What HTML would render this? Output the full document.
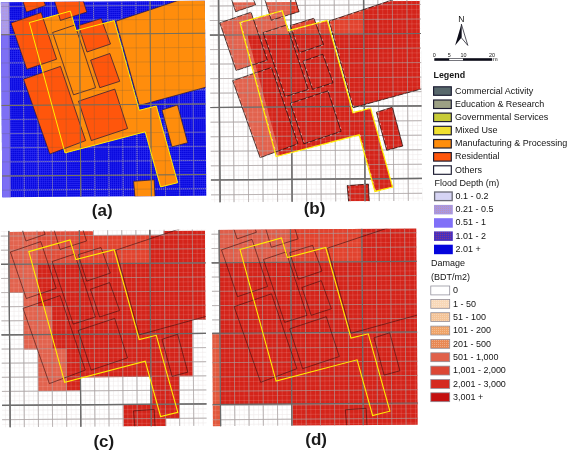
<!DOCTYPE html>
<html><head><meta charset="utf-8"><title>Flood damage maps</title>
<style>
html,body{margin:0;padding:0;background:#fff;}
body{width:567px;height:450px;overflow:hidden;position:relative;font-family:"Liberation Sans",sans-serif;}
svg{position:absolute;left:0;top:0;display:block;}
svg text{font-family:"Liberation Sans",sans-serif;}
</style></head><body>
<svg width="567" height="450" viewBox="0 0 567 450">
<defs>
<pattern id="fineBlue" width="2.02" height="2.02" patternUnits="userSpaceOnUse" x="9.4" y="6.2">
<rect width="2.02" height="2.02" fill="#0707dd"/><path d="M0 0.25H2.02M0.25 0V2.02" stroke="#2c2cf4" stroke-width="0.5"/></pattern>
<pattern id="dotO" width="2" height="2" patternUnits="userSpaceOnUse"><circle cx="0.5" cy="0.5" r="0.42" fill="#e8845c" fill-opacity="0.6"/></pattern>
<pattern id="dotR" width="2" height="2" patternUnits="userSpaceOnUse"><circle cx="0.5" cy="0.5" r="0.45" fill="#c83c50"/></pattern>
<pattern id="dotW" width="2" height="2" patternUnits="userSpaceOnUse"><circle cx="0.5" cy="0.5" r="0.42" fill="#ffffff" fill-opacity="0.55"/></pattern>
<pattern id="dotS" width="3" height="3" patternUnits="userSpaceOnUse"><circle cx="1" cy="1" r="0.5" fill="#e08a50" fill-opacity="0.8"/></pattern>

<clipPath id="clipA"><rect x="1.6" y="1.6" width="204.0" height="194.8" transform="rotate(-0.42 103.6 99)"/></clipPath>
</defs>
<g clip-path="url(#clipA)">
<g transform="rotate(-0.42 103.6 99)">
<rect x="-5" y="-5" width="220" height="210" fill="url(#fineBlue)"/>
<rect x="-5" y="-5" width="15.1" height="39.0" fill="#a99cf2"/>
<rect x="-5" y="34.0" width="15.1" height="170" fill="#7d6ff4"/>
<rect x="2" y="2" width="8" height="32" fill="url(#dotS)"/>
<path d="M23.58 -3.0V203.0M37.71 -3.0V203.0M51.84 -3.0V203.0M65.97 -3.0V203.0M80.10 -3.0V203.0M94.23 -3.0V203.0M108.36 -3.0V203.0M122.49 -3.0V203.0M136.62 -3.0V203.0M150.75 -3.0V203.0M164.88 -3.0V203.0M179.01 -3.0V203.0M193.14 -3.0V203.0M207.27 -3.0V203.0M10.1 5.74H210.0M10.1 19.87H210.0M10.1 34.00H210.0M10.1 48.13H210.0M10.1 62.26H210.0M10.1 76.39H210.0M10.1 90.52H210.0M10.1 104.65H210.0M10.1 118.78H210.0M10.1 132.91H210.0M10.1 147.04H210.0M10.1 161.17H210.0M10.1 175.30H210.0M10.1 189.43H210.0" stroke="#b0a8f0" stroke-width="0.8" fill="none" stroke-dasharray="1.3 0.7"/>
<path d="" stroke="#77705e" stroke-width="1.1" fill="none"/>
</g>
<polygon points="29.3,22.6 70.3,11.1 76.2,30.6 114.2,20.6 139.2,110.3 156.3,106.0 177.7,182.7 160.6,186.9 145.2,131.8 65.0,152.9" fill="#ff8d0c"/>
<polygon points="116.0,21.2 182.5,-1.0 212.0,-1.0 212.0,85.5 139.3,105.5" fill="#ff8d0c"/>
<polygon points="162.0,110.0 177.5,105.0 187.6,142.7 172.0,146.9" fill="#ff8d0c"/>
<polygon points="133.6,181.3 154.2,179.8 155.2,200.0 135.2,200.0" fill="#ff8d0c"/>
<polygon points="22.5,0.0 26.4,12.1 45.5,5.5 43.5,0.0" fill="#ff560c"/>
<polygon points="54.2,0.0 60.4,20.4 86.8,12.1 83.0,0.0" fill="#ff560c"/>
<polygon points="11.0,23.0 41.2,12.6 56.6,59.2 26.8,69.3" fill="#ff560c"/>
<polygon points="78.5,25.6 101.2,18.5 110.5,44.0 87.0,52.0" fill="#ff560c"/>
<polygon points="90.6,60.2 109.8,53.5 119.7,81.3 99.8,87.7" fill="#ff560c"/>
<polygon points="23.5,79.2 60.5,66.4 85.6,140.6 49.8,154.1" fill="#ff560c"/>
<polygon points="78.5,101.2 114.8,89.1 127.6,128.5 91.3,140.6" fill="#ff560c"/>
<polygon points="22.5,0.0 26.4,12.1 45.5,5.5 43.5,0.0" fill="none" stroke="#2a1c3c" stroke-width="0.75"/>
<polygon points="54.2,0.0 60.4,20.4 86.8,12.1 83.0,0.0" fill="none" stroke="#2a1c3c" stroke-width="0.75"/>
<polygon points="11.0,23.0 41.2,12.6 56.6,59.2 26.8,69.3" fill="none" stroke="#2a1c3c" stroke-width="0.75"/>
<polygon points="78.5,25.6 101.2,18.5 110.5,44.0 87.0,52.0" fill="none" stroke="#2a1c3c" stroke-width="0.75"/>
<polygon points="90.6,60.2 109.8,53.5 119.7,81.3 99.8,87.7" fill="none" stroke="#2a1c3c" stroke-width="0.75"/>
<polygon points="23.5,79.2 60.5,66.4 85.6,140.6 49.8,154.1" fill="none" stroke="#2a1c3c" stroke-width="0.75"/>
<polygon points="78.5,101.2 114.8,89.1 127.6,128.5 91.3,140.6" fill="none" stroke="#2a1c3c" stroke-width="0.75"/>
<polygon points="52.6,32.5 75.0,25.0 95.6,87.7 73.5,94.8" fill="none" stroke="#2a1c3c" stroke-width="0.75"/>
<polygon points="162.0,110.0 177.5,105.0 187.6,142.7 172.0,146.9" fill="none" stroke="#2a1c3c" stroke-width="0.75"/>
<polygon points="133.6,181.3 154.2,179.8 155.2,200.0 135.2,200.0" fill="none" stroke="#2a1c3c" stroke-width="0.75"/>
<polygon points="116.0,21.2 182.5,-1.0 212.0,-1.0 212.0,85.5 139.3,105.5" fill="none" stroke="#2a1c3c" stroke-width="0.75"/>
<g transform="rotate(-0.42 103.6 99)">
<path d="M9.45 -3.0V203.0M23.58 -3.0V203.0M37.71 -3.0V203.0M51.84 -3.0V203.0M65.97 -3.0V203.0M80.10 -3.0V203.0M94.23 -3.0V203.0M108.36 -3.0V203.0M122.49 -3.0V203.0M136.62 -3.0V203.0M150.75 -3.0V203.0M164.88 -3.0V203.0M179.01 -3.0V203.0M193.14 -3.0V203.0M207.27 -3.0V203.0M-3.0 5.74H212.0M-3.0 19.87H212.0M-3.0 34.00H212.0M-3.0 48.13H212.0M-3.0 62.26H212.0M-3.0 76.39H212.0M-3.0 90.52H212.0M-3.0 104.65H212.0M-3.0 118.78H212.0M-3.0 132.91H212.0M-3.0 147.04H212.0M-3.0 161.17H212.0M-3.0 175.30H212.0M-3.0 189.43H212.0" stroke="rgba(96,88,70,0.32)" stroke-width="0.7" fill="none"/>
<path d="M80.10 -3.0V203.0M150.70 -3.0V203.0M-3.0 34.00H212.0M-3.0 104.80H212.0M-3.0 175.20H212.0" stroke="#77705e" stroke-width="1.1" fill="none"/>
</g>
<polygon points="29.3,22.6 70.3,11.1 76.2,30.6 114.2,20.6 139.2,110.3 156.3,106.0 177.7,182.7 160.6,186.9 145.2,131.8 65.0,152.9" fill="none" stroke="#fff000" stroke-width="1.0"/>
</g>
<clipPath id="clipB"><rect x="210.4" y="-2.0" width="211.0" height="203.6" transform="rotate(-0.42 316 101)"/></clipPath>
<clipPath id="clipBd"><rect x="210.4" y="34.3" width="211.0" height="167.3" transform="rotate(-0.42 316 101)"/><rect x="364.4" y="-5" width="100" height="215" transform="rotate(-0.42 316 101)"/></clipPath>
<clipPath id="clipBf"><rect x="210.4" y="1.7" width="209.8" height="199.9" transform="rotate(-0.42 316 101)"/></clipPath>
<g clip-path="url(#clipB)">
<g transform="rotate(-0.42 316 101)">
<path d="M209.09 -3.0V204.6M213.93 -3.0V204.6M218.77 -3.0V204.6M223.61 -3.0V204.6M228.46 -3.0V204.6M233.30 -3.0V204.6M238.14 -3.0V204.6M242.98 -3.0V204.6M247.82 -3.0V204.6M252.66 -3.0V204.6M257.51 -3.0V204.6M262.35 -3.0V204.6M267.19 -3.0V204.6M272.03 -3.0V204.6M276.87 -3.0V204.6M281.72 -3.0V204.6M286.56 -3.0V204.6M291.40 -3.0V204.6M296.24 -3.0V204.6M301.08 -3.0V204.6M305.93 -3.0V204.6M310.77 -3.0V204.6M315.61 -3.0V204.6M320.45 -3.0V204.6M325.29 -3.0V204.6M330.14 -3.0V204.6M334.98 -3.0V204.6M339.82 -3.0V204.6M344.66 -3.0V204.6M349.50 -3.0V204.6M354.34 -3.0V204.6M359.19 -3.0V204.6M364.03 -3.0V204.6M368.87 -3.0V204.6M373.71 -3.0V204.6M378.55 -3.0V204.6M383.40 -3.0V204.6M388.24 -3.0V204.6M393.08 -3.0V204.6M397.92 -3.0V204.6M402.76 -3.0V204.6M407.61 -3.0V204.6M412.45 -3.0V204.6M417.29 -3.0V204.6M422.13 -3.0V204.6M208.4 0.41H423.4M208.4 5.25H423.4M208.4 10.09H423.4M208.4 14.93H423.4M208.4 19.77H423.4M208.4 24.62H423.4M208.4 29.46H423.4M208.4 34.30H423.4M208.4 39.14H423.4M208.4 43.98H423.4M208.4 48.83H423.4M208.4 53.67H423.4M208.4 58.51H423.4M208.4 63.35H423.4M208.4 68.19H423.4M208.4 73.04H423.4M208.4 77.88H423.4M208.4 82.72H423.4M208.4 87.56H423.4M208.4 92.40H423.4M208.4 97.24H423.4M208.4 102.09H423.4M208.4 106.93H423.4M208.4 111.77H423.4M208.4 116.61H423.4M208.4 121.45H423.4M208.4 126.30H423.4M208.4 131.14H423.4M208.4 135.98H423.4M208.4 140.82H423.4M208.4 145.66H423.4M208.4 150.51H423.4M208.4 155.35H423.4M208.4 160.19H423.4M208.4 165.03H423.4M208.4 169.87H423.4M208.4 174.71H423.4M208.4 179.56H423.4M208.4 184.40H423.4M208.4 189.24H423.4M208.4 194.08H423.4M208.4 198.92H423.4M208.4 203.77H423.4" stroke="#ebebeb" stroke-width="0.5" fill="none"/>
<path d="M218.77 -3.0V204.6M233.30 -3.0V204.6M247.82 -3.0V204.6M262.35 -3.0V204.6M276.87 -3.0V204.6M291.40 -3.0V204.6M305.93 -3.0V204.6M320.45 -3.0V204.6M334.98 -3.0V204.6M349.50 -3.0V204.6M364.03 -3.0V204.6M378.55 -3.0V204.6M393.08 -3.0V204.6M407.61 -3.0V204.6M422.13 -3.0V204.6M208.4 5.25H423.4M208.4 19.77H423.4M208.4 34.30H423.4M208.4 48.83H423.4M208.4 63.35H423.4M208.4 77.88H423.4M208.4 92.40H423.4M208.4 106.93H423.4M208.4 121.45H423.4M208.4 135.98H423.4M208.4 150.51H423.4M208.4 165.03H423.4M208.4 179.56H423.4M208.4 194.08H423.4" stroke="#c9c9c9" stroke-width="0.7" fill="none"/>
<path d="M219.40 -3.0V204.6M291.40 -3.0V204.6M364.40 -3.0V204.6M208.4 34.30H423.4M208.4 106.70H423.4M208.4 179.20H423.4" stroke="#6a6a6a" stroke-width="1.2" fill="none"/>
</g>
<g clip-path="url(#clipBf)">
<polygon points="231.6,-0.7 235.6,11.7 255.6,4.9 253.5,-0.7" fill="#e2634e"/>
<polygon points="264.8,-0.7 271.3,20.2 299.1,11.7 295.2,-0.7" fill="#e2634e"/>
<polygon points="219.8,22.9 251.0,12.2 267.3,60.1 236.1,70.5" fill="#e2634e"/>
<polygon points="290.4,25.6 313.9,18.3 323.5,44.5 299.3,52.7" fill="#e2634e"/>
<polygon points="303.0,61.2 322.8,54.3 333.0,82.8 312.5,89.4" fill="#e2634e"/>
<polygon points="232.7,80.7 271.4,67.5 297.9,143.8 260.1,157.7" fill="#e2634e"/>
<polygon points="290.4,103.3 327.9,90.9 341.1,131.4 303.8,143.8" fill="#e2634e"/>
<polygon points="263.1,32.7 286.7,25.0 308.2,89.4 285.1,96.7" fill="#e2634e"/>
<polygon points="376.4,112.3 392.4,107.2 402.8,146.0 386.7,150.3" fill="#e2634e"/>
<polygon points="347.2,185.6 368.4,184.1 369.4,204.9 348.9,204.9" fill="#e2634e"/>
<polygon points="329.1,21.1 397.5,-1.8 427.8,-1.8 427.8,87.2 353.1,107.7" fill="#e2634e"/>
<polygon points="240.0,22.5 282.2,10.7 288.2,30.7 327.3,20.4 353.0,112.7 370.6,108.2 392.6,187.1 375.0,191.4 359.2,134.8 276.2,156.5" fill="#e2634e"/>
<clipPath id="clipBm"><rect x="291.4" y="-5" width="73.0" height="39.3" transform="rotate(-0.42 316 101)"/></clipPath>
<g clip-path="url(#clipBm)">
<polygon points="264.8,-0.7 271.3,20.2 299.1,11.7 295.2,-0.7" fill="#e2432e"/>
<polygon points="290.4,25.6 313.9,18.3 323.5,44.5 299.3,52.7" fill="#e2432e"/>
<polygon points="329.1,21.1 397.5,-1.8 427.8,-1.8 427.8,87.2 353.1,107.7" fill="#e2432e"/>
<polygon points="240.0,22.5 282.2,10.7 288.2,30.7 327.3,20.4 353.0,112.7 370.6,108.2 392.6,187.1 375.0,191.4 359.2,134.8 276.2,156.5" fill="#e2432e"/>
</g>
<g clip-path="url(#clipBd)">
<polygon points="244.3,23.9 282.2,12.6 288.2,30.7 327.3,20.4 353.0,112.7 370.6,108.2 392.6,187.1 375.0,191.4 359.2,134.8 279.9,155.4" fill="#d4241a"/>
<polygon points="329.1,21.1 397.5,-1.8 427.8,-1.8 427.8,87.2 353.1,107.7" fill="#d4241a"/>
<polygon points="376.4,112.3 392.4,107.2 402.8,146.0 386.7,150.3" fill="#d4241a"/>
<polygon points="347.2,185.6 368.4,184.1 369.4,204.9 348.9,204.9" fill="#d4241a"/>
</g></g>
<g transform="rotate(-0.42 316 101)">
<path d="M209.09 -3.0V204.6M213.93 -3.0V204.6M218.77 -3.0V204.6M223.61 -3.0V204.6M228.46 -3.0V204.6M233.30 -3.0V204.6M238.14 -3.0V204.6M242.98 -3.0V204.6M247.82 -3.0V204.6M252.66 -3.0V204.6M257.51 -3.0V204.6M262.35 -3.0V204.6M267.19 -3.0V204.6M272.03 -3.0V204.6M276.87 -3.0V204.6M281.72 -3.0V204.6M286.56 -3.0V204.6M291.40 -3.0V204.6M296.24 -3.0V204.6M301.08 -3.0V204.6M305.93 -3.0V204.6M310.77 -3.0V204.6M315.61 -3.0V204.6M320.45 -3.0V204.6M325.29 -3.0V204.6M330.14 -3.0V204.6M334.98 -3.0V204.6M339.82 -3.0V204.6M344.66 -3.0V204.6M349.50 -3.0V204.6M354.34 -3.0V204.6M359.19 -3.0V204.6M364.03 -3.0V204.6M368.87 -3.0V204.6M373.71 -3.0V204.6M378.55 -3.0V204.6M383.40 -3.0V204.6M388.24 -3.0V204.6M393.08 -3.0V204.6M397.92 -3.0V204.6M402.76 -3.0V204.6M407.61 -3.0V204.6M412.45 -3.0V204.6M417.29 -3.0V204.6M422.13 -3.0V204.6M208.4 0.41H423.4M208.4 5.25H423.4M208.4 10.09H423.4M208.4 14.93H423.4M208.4 19.77H423.4M208.4 24.62H423.4M208.4 29.46H423.4M208.4 34.30H423.4M208.4 39.14H423.4M208.4 43.98H423.4M208.4 48.83H423.4M208.4 53.67H423.4M208.4 58.51H423.4M208.4 63.35H423.4M208.4 68.19H423.4M208.4 73.04H423.4M208.4 77.88H423.4M208.4 82.72H423.4M208.4 87.56H423.4M208.4 92.40H423.4M208.4 97.24H423.4M208.4 102.09H423.4M208.4 106.93H423.4M208.4 111.77H423.4M208.4 116.61H423.4M208.4 121.45H423.4M208.4 126.30H423.4M208.4 131.14H423.4M208.4 135.98H423.4M208.4 140.82H423.4M208.4 145.66H423.4M208.4 150.51H423.4M208.4 155.35H423.4M208.4 160.19H423.4M208.4 165.03H423.4M208.4 169.87H423.4M208.4 174.71H423.4M208.4 179.56H423.4M208.4 184.40H423.4M208.4 189.24H423.4M208.4 194.08H423.4M208.4 198.92H423.4M208.4 203.77H423.4" stroke="rgba(255,235,230,0.28)" stroke-width="0.5" fill="none"/>
<path d="M218.77 -3.0V204.6M233.30 -3.0V204.6M247.82 -3.0V204.6M262.35 -3.0V204.6M276.87 -3.0V204.6M291.40 -3.0V204.6M305.93 -3.0V204.6M320.45 -3.0V204.6M334.98 -3.0V204.6M349.50 -3.0V204.6M364.03 -3.0V204.6M378.55 -3.0V204.6M393.08 -3.0V204.6M407.61 -3.0V204.6M422.13 -3.0V204.6M208.4 5.25H423.4M208.4 19.77H423.4M208.4 34.30H423.4M208.4 48.83H423.4M208.4 63.35H423.4M208.4 77.88H423.4M208.4 92.40H423.4M208.4 106.93H423.4M208.4 121.45H423.4M208.4 135.98H423.4M208.4 150.51H423.4M208.4 165.03H423.4M208.4 179.56H423.4M208.4 194.08H423.4" stroke="rgba(164,156,156,0.82)" stroke-width="0.7" fill="none"/>
<path d="M219.40 -3.0V204.6M291.40 -3.0V204.6M364.40 -3.0V204.6M208.4 34.30H423.4M208.4 106.70H423.4M208.4 179.20H423.4" stroke="#6a6a6a" stroke-width="1.2" fill="none"/>
</g>
<polygon points="231.6,-0.7 235.6,11.7 255.6,4.9 253.5,-0.7" fill="none" stroke="#1a1010" stroke-width="0.75"/>
<polygon points="264.8,-0.7 271.3,20.2 299.1,11.7 295.2,-0.7" fill="none" stroke="#1a1010" stroke-width="0.75"/>
<polygon points="219.8,22.9 251.0,12.2 267.3,60.1 236.1,70.5" fill="none" stroke="#1a1010" stroke-width="0.75"/>
<polygon points="290.4,25.6 313.9,18.3 323.5,44.5 299.3,52.7" fill="none" stroke="#1a1010" stroke-width="0.75"/>
<polygon points="303.0,61.2 322.8,54.3 333.0,82.8 312.5,89.4" fill="none" stroke="#1a1010" stroke-width="0.75"/>
<polygon points="232.7,80.7 271.4,67.5 297.9,143.8 260.1,157.7" fill="none" stroke="#1a1010" stroke-width="0.75"/>
<polygon points="290.4,103.3 327.9,90.9 341.1,131.4 303.8,143.8" fill="none" stroke="#1a1010" stroke-width="0.75"/>
<polygon points="263.1,32.7 286.7,25.0 308.2,89.4 285.1,96.7" fill="none" stroke="#1a1010" stroke-width="0.75"/>
<polygon points="376.4,112.3 392.4,107.2 402.8,146.0 386.7,150.3" fill="none" stroke="#1a1010" stroke-width="0.75"/>
<polygon points="347.2,185.6 368.4,184.1 369.4,204.9 348.9,204.9" fill="none" stroke="#1a1010" stroke-width="0.75"/>
<polygon points="329.1,21.1 397.5,-1.8 427.8,-1.8 427.8,87.2 353.1,107.7" fill="none" stroke="#1a1010" stroke-width="0.75"/>
<g transform="translate(0.8,0.2)">
<polygon points="231.6,-0.7 235.6,11.7 255.6,4.9 253.5,-0.7" fill="none" stroke="#ffffff" stroke-opacity="0.85" stroke-width="0.6" stroke-dasharray="2.2 5.5"/>
<polygon points="264.8,-0.7 271.3,20.2 299.1,11.7 295.2,-0.7" fill="none" stroke="#ffffff" stroke-opacity="0.85" stroke-width="0.6" stroke-dasharray="2.2 5.5"/>
<polygon points="219.8,22.9 251.0,12.2 267.3,60.1 236.1,70.5" fill="none" stroke="#ffffff" stroke-opacity="0.85" stroke-width="0.6" stroke-dasharray="2.2 5.5"/>
<polygon points="290.4,25.6 313.9,18.3 323.5,44.5 299.3,52.7" fill="none" stroke="#ffffff" stroke-opacity="0.85" stroke-width="0.6" stroke-dasharray="2.2 5.5"/>
<polygon points="303.0,61.2 322.8,54.3 333.0,82.8 312.5,89.4" fill="none" stroke="#ffffff" stroke-opacity="0.85" stroke-width="0.6" stroke-dasharray="2.2 5.5"/>
<polygon points="232.7,80.7 271.4,67.5 297.9,143.8 260.1,157.7" fill="none" stroke="#ffffff" stroke-opacity="0.85" stroke-width="0.6" stroke-dasharray="2.2 5.5"/>
<polygon points="290.4,103.3 327.9,90.9 341.1,131.4 303.8,143.8" fill="none" stroke="#ffffff" stroke-opacity="0.85" stroke-width="0.6" stroke-dasharray="2.2 5.5"/>
<polygon points="263.1,32.7 286.7,25.0 308.2,89.4 285.1,96.7" fill="none" stroke="#ffffff" stroke-opacity="0.85" stroke-width="0.6" stroke-dasharray="2.2 5.5"/>
<polygon points="376.4,112.3 392.4,107.2 402.8,146.0 386.7,150.3" fill="none" stroke="#ffffff" stroke-opacity="0.85" stroke-width="0.6" stroke-dasharray="2.2 5.5"/>
<polygon points="347.2,185.6 368.4,184.1 369.4,204.9 348.9,204.9" fill="none" stroke="#ffffff" stroke-opacity="0.85" stroke-width="0.6" stroke-dasharray="2.2 5.5"/>
<polygon points="329.1,21.1 397.5,-1.8 427.8,-1.8 427.8,87.2 353.1,107.7" fill="none" stroke="#ffffff" stroke-opacity="0.85" stroke-width="0.6" stroke-dasharray="2.2 5.5"/>
</g>
<polygon points="240.0,22.5 282.2,10.7 288.2,30.7 327.3,20.4 353.0,112.7 370.6,108.2 392.6,187.1 375.0,191.4 359.2,134.8 276.2,156.5" fill="none" stroke="#ffee00" stroke-width="1.25"/>
<polygon points="240.0,22.5 282.2,10.7 288.2,30.7 327.3,20.4 353.0,112.7 370.6,108.2 392.6,187.1 375.0,191.4 359.2,134.8 276.2,156.5" fill="none" stroke="#ffffff" stroke-opacity="0.8" stroke-width="0.6" stroke-dasharray="2 6" transform="translate(0.9,0.2)"/>
</g>
<clipPath id="clipC"><rect x="1.5" y="230.2" width="204.4" height="196.2" transform="rotate(-0.42 105 329)"/></clipPath>
<g clip-path="url(#clipC)">
<g transform="rotate(-0.42 105 329)">
<path d="M0.09 228.2V429.4M4.79 228.2V429.4M9.50 228.2V429.4M14.21 228.2V429.4M18.91 228.2V429.4M23.62 228.2V429.4M28.33 228.2V429.4M33.03 228.2V429.4M37.74 228.2V429.4M42.45 228.2V429.4M47.15 228.2V429.4M51.86 228.2V429.4M56.57 228.2V429.4M61.27 228.2V429.4M65.98 228.2V429.4M70.69 228.2V429.4M75.39 228.2V429.4M80.10 228.2V429.4M84.81 228.2V429.4M89.51 228.2V429.4M94.22 228.2V429.4M98.93 228.2V429.4M103.63 228.2V429.4M108.34 228.2V429.4M113.05 228.2V429.4M117.75 228.2V429.4M122.46 228.2V429.4M127.17 228.2V429.4M131.87 228.2V429.4M136.58 228.2V429.4M141.29 228.2V429.4M145.99 228.2V429.4M150.70 228.2V429.4M155.41 228.2V429.4M160.11 228.2V429.4M164.82 228.2V429.4M169.53 228.2V429.4M174.23 228.2V429.4M178.94 228.2V429.4M183.65 228.2V429.4M188.35 228.2V429.4M193.06 228.2V429.4M197.77 228.2V429.4M202.47 228.2V429.4M207.18 228.2V429.4M-1.5 230.65H208.4M-1.5 235.36H208.4M-1.5 240.07H208.4M-1.5 244.77H208.4M-1.5 249.48H208.4M-1.5 254.19H208.4M-1.5 258.89H208.4M-1.5 263.60H208.4M-1.5 268.31H208.4M-1.5 273.01H208.4M-1.5 277.72H208.4M-1.5 282.43H208.4M-1.5 287.13H208.4M-1.5 291.84H208.4M-1.5 296.55H208.4M-1.5 301.25H208.4M-1.5 305.96H208.4M-1.5 310.67H208.4M-1.5 315.37H208.4M-1.5 320.08H208.4M-1.5 324.79H208.4M-1.5 329.49H208.4M-1.5 334.20H208.4M-1.5 338.91H208.4M-1.5 343.61H208.4M-1.5 348.32H208.4M-1.5 353.03H208.4M-1.5 357.73H208.4M-1.5 362.44H208.4M-1.5 367.15H208.4M-1.5 371.85H208.4M-1.5 376.56H208.4M-1.5 381.27H208.4M-1.5 385.97H208.4M-1.5 390.68H208.4M-1.5 395.39H208.4M-1.5 400.09H208.4M-1.5 404.80H208.4M-1.5 409.51H208.4M-1.5 414.21H208.4M-1.5 418.92H208.4M-1.5 423.63H208.4M-1.5 428.33H208.4" stroke="#ebebeb" stroke-width="0.5" fill="none"/>
<path d="M9.50 228.2V429.4M23.62 228.2V429.4M37.74 228.2V429.4M51.86 228.2V429.4M65.98 228.2V429.4M80.10 228.2V429.4M94.22 228.2V429.4M108.34 228.2V429.4M122.46 228.2V429.4M136.58 228.2V429.4M150.70 228.2V429.4M164.82 228.2V429.4M178.94 228.2V429.4M193.06 228.2V429.4M207.18 228.2V429.4M-1.5 235.36H208.4M-1.5 249.48H208.4M-1.5 263.60H208.4M-1.5 277.72H208.4M-1.5 291.84H208.4M-1.5 305.96H208.4M-1.5 320.08H208.4M-1.5 334.20H208.4M-1.5 348.32H208.4M-1.5 362.44H208.4M-1.5 376.56H208.4M-1.5 390.68H208.4M-1.5 404.80H208.4M-1.5 418.92H208.4" stroke="#c9c9c9" stroke-width="0.7" fill="none"/>
<path d="M9.50 228.2V429.4M80.10 228.2V429.4M150.50 228.2V429.4M-1.5 263.60H208.4M-1.5 334.20H208.4M-1.5 404.70H208.4" stroke="#6a6a6a" stroke-width="1.2" fill="none"/>
<g transform="translate(0.5,0)">
<polygon points="8.8,231.3 92.9,231.3 92.9,235.6 163.9,235.6 163.9,231.4 205.3,231.4 205.3,320.4 191.8,320.4 191.8,376.8 178.4,376.8 178.4,419.0 165.0,419.0 165.0,427.0 122.4,427.0 122.4,405.1 151.2,405.1 151.2,377.2 80.0,377.2 80.0,390.4 37.5,390.4 37.5,348.7 23.3,348.7 23.3,292.4 8.8,292.4" fill="#d4241a"/>
<polygon points="37.5,231.3 79.6,231.3 79.6,263.6 37.5,263.6" fill="#e04e3a"/>
<polygon points="79.6,231.3 92.9,231.3 92.9,235.6 150.0,235.6 150.0,263.6 79.6,263.6" fill="#e2432e"/>
<polygon points="8.8,231.3 37.5,231.3 37.5,278.2 23.3,278.2 23.3,292.4 8.8,292.4" fill="#e2634e"/>
<polygon points="23.3,278.2 37.5,278.2 37.5,306.0 51.7,306.0 51.7,348.7 66.0,348.7 66.0,390.4 37.5,390.4 37.5,348.7 23.3,348.7" fill="#e2634e"/>
</g>
<path d="M0.09 228.2V429.4M4.79 228.2V429.4M9.50 228.2V429.4M14.21 228.2V429.4M18.91 228.2V429.4M23.62 228.2V429.4M28.33 228.2V429.4M33.03 228.2V429.4M37.74 228.2V429.4M42.45 228.2V429.4M47.15 228.2V429.4M51.86 228.2V429.4M56.57 228.2V429.4M61.27 228.2V429.4M65.98 228.2V429.4M70.69 228.2V429.4M75.39 228.2V429.4M80.10 228.2V429.4M84.81 228.2V429.4M89.51 228.2V429.4M94.22 228.2V429.4M98.93 228.2V429.4M103.63 228.2V429.4M108.34 228.2V429.4M113.05 228.2V429.4M117.75 228.2V429.4M122.46 228.2V429.4M127.17 228.2V429.4M131.87 228.2V429.4M136.58 228.2V429.4M141.29 228.2V429.4M145.99 228.2V429.4M150.70 228.2V429.4M155.41 228.2V429.4M160.11 228.2V429.4M164.82 228.2V429.4M169.53 228.2V429.4M174.23 228.2V429.4M178.94 228.2V429.4M183.65 228.2V429.4M188.35 228.2V429.4M193.06 228.2V429.4M197.77 228.2V429.4M202.47 228.2V429.4M207.18 228.2V429.4M-1.5 230.65H208.4M-1.5 235.36H208.4M-1.5 240.07H208.4M-1.5 244.77H208.4M-1.5 249.48H208.4M-1.5 254.19H208.4M-1.5 258.89H208.4M-1.5 263.60H208.4M-1.5 268.31H208.4M-1.5 273.01H208.4M-1.5 277.72H208.4M-1.5 282.43H208.4M-1.5 287.13H208.4M-1.5 291.84H208.4M-1.5 296.55H208.4M-1.5 301.25H208.4M-1.5 305.96H208.4M-1.5 310.67H208.4M-1.5 315.37H208.4M-1.5 320.08H208.4M-1.5 324.79H208.4M-1.5 329.49H208.4M-1.5 334.20H208.4M-1.5 338.91H208.4M-1.5 343.61H208.4M-1.5 348.32H208.4M-1.5 353.03H208.4M-1.5 357.73H208.4M-1.5 362.44H208.4M-1.5 367.15H208.4M-1.5 371.85H208.4M-1.5 376.56H208.4M-1.5 381.27H208.4M-1.5 385.97H208.4M-1.5 390.68H208.4M-1.5 395.39H208.4M-1.5 400.09H208.4M-1.5 404.80H208.4M-1.5 409.51H208.4M-1.5 414.21H208.4M-1.5 418.92H208.4M-1.5 423.63H208.4M-1.5 428.33H208.4" stroke="rgba(255,235,230,0.28)" stroke-width="0.5" fill="none"/>
<path d="M9.50 228.2V429.4M23.62 228.2V429.4M37.74 228.2V429.4M51.86 228.2V429.4M65.98 228.2V429.4M80.10 228.2V429.4M94.22 228.2V429.4M108.34 228.2V429.4M122.46 228.2V429.4M136.58 228.2V429.4M150.70 228.2V429.4M164.82 228.2V429.4M178.94 228.2V429.4M193.06 228.2V429.4M207.18 228.2V429.4M-1.5 235.36H208.4M-1.5 249.48H208.4M-1.5 263.60H208.4M-1.5 277.72H208.4M-1.5 291.84H208.4M-1.5 305.96H208.4M-1.5 320.08H208.4M-1.5 334.20H208.4M-1.5 348.32H208.4M-1.5 362.44H208.4M-1.5 376.56H208.4M-1.5 390.68H208.4M-1.5 404.80H208.4M-1.5 418.92H208.4" stroke="rgba(164,156,156,0.82)" stroke-width="0.7" fill="none"/>
<path d="M9.50 228.2V429.4M80.10 228.2V429.4M150.50 228.2V429.4M-1.5 263.60H208.4M-1.5 334.20H208.4M-1.5 404.70H208.4" stroke="#6a6a6a" stroke-width="1.2" fill="none"/>
</g>
<polygon points="22.0,228.9 25.9,241.0 45.1,234.4 43.1,228.9" fill="none" stroke="#341010" stroke-width="0.58"/>
<polygon points="53.8,228.9 60.0,249.4 86.5,241.0 82.7,228.9" fill="none" stroke="#341010" stroke-width="0.58"/>
<polygon points="10.4,252.0 40.8,241.6 56.2,288.3 26.3,298.5" fill="none" stroke="#341010" stroke-width="0.58"/>
<polygon points="78.2,254.6 101.0,247.5 110.3,273.1 86.7,281.1" fill="none" stroke="#341010" stroke-width="0.58"/>
<polygon points="90.4,289.3 109.6,282.6 119.6,310.5 99.6,317.0" fill="none" stroke="#341010" stroke-width="0.58"/>
<polygon points="23.0,308.4 60.1,295.6 85.3,370.1 49.4,383.6" fill="none" stroke="#341010" stroke-width="0.58"/>
<polygon points="78.2,330.5 114.7,318.4 127.5,357.9 91.1,370.1" fill="none" stroke="#341010" stroke-width="0.58"/>
<polygon points="52.2,261.5 74.7,254.0 95.4,317.0 73.2,324.1" fill="none" stroke="#341010" stroke-width="0.58"/>
<polygon points="162.0,339.3 177.6,334.3 187.8,372.2 172.1,376.4" fill="none" stroke="#341010" stroke-width="0.58"/>
<polygon points="133.5,410.9 154.2,409.4 155.2,429.7 135.1,429.7" fill="none" stroke="#341010" stroke-width="0.58"/>
<polygon points="115.9,250.2 182.6,227.9 212.2,227.9 212.2,314.7 139.3,334.8" fill="none" stroke="#341010" stroke-width="0.58"/>
<polygon points="28.8,251.6 70.0,240.0 75.9,259.6 114.1,249.6 139.2,339.6 156.3,335.3 177.8,412.3 160.6,416.5 145.2,361.2 64.7,382.4" fill="none" stroke="#ffee00" stroke-width="1.1"/>
</g>
<clipPath id="clipD"><rect x="212.2" y="229.3" width="204.8" height="196.1" transform="rotate(-0.42 316 327)"/></clipPath>
<g clip-path="url(#clipD)">
<g transform="rotate(-0.42 316 327)">
<path d="M210.33 226.3V428.4M215.09 226.3V428.4M219.84 226.3V428.4M224.60 226.3V428.4M229.36 226.3V428.4M234.11 226.3V428.4M238.87 226.3V428.4M243.63 226.3V428.4M248.39 226.3V428.4M253.14 226.3V428.4M257.90 226.3V428.4M262.66 226.3V428.4M267.41 226.3V428.4M272.17 226.3V428.4M276.93 226.3V428.4M281.69 226.3V428.4M286.44 226.3V428.4M291.20 226.3V428.4M295.96 226.3V428.4M300.71 226.3V428.4M305.47 226.3V428.4M310.23 226.3V428.4M314.99 226.3V428.4M319.74 226.3V428.4M324.50 226.3V428.4M329.26 226.3V428.4M334.01 226.3V428.4M338.77 226.3V428.4M343.53 226.3V428.4M348.29 226.3V428.4M353.04 226.3V428.4M357.80 226.3V428.4M362.56 226.3V428.4M367.31 226.3V428.4M372.07 226.3V428.4M376.83 226.3V428.4M381.58 226.3V428.4M386.34 226.3V428.4M391.10 226.3V428.4M395.86 226.3V428.4M400.61 226.3V428.4M405.37 226.3V428.4M410.13 226.3V428.4M414.88 226.3V428.4M419.64 226.3V428.4M209.2 228.74H420.0M209.2 233.50H420.0M209.2 238.26H420.0M209.2 243.01H420.0M209.2 247.77H420.0M209.2 252.53H420.0M209.2 257.28H420.0M209.2 262.04H420.0M209.2 266.80H420.0M209.2 271.56H420.0M209.2 276.31H420.0M209.2 281.07H420.0M209.2 285.83H420.0M209.2 290.58H420.0M209.2 295.34H420.0M209.2 300.10H420.0M209.2 304.86H420.0M209.2 309.61H420.0M209.2 314.37H420.0M209.2 319.13H420.0M209.2 323.88H420.0M209.2 328.64H420.0M209.2 333.40H420.0M209.2 338.16H420.0M209.2 342.91H420.0M209.2 347.67H420.0M209.2 352.43H420.0M209.2 357.18H420.0M209.2 361.94H420.0M209.2 366.70H420.0M209.2 371.46H420.0M209.2 376.21H420.0M209.2 380.97H420.0M209.2 385.73H420.0M209.2 390.48H420.0M209.2 395.24H420.0M209.2 400.00H420.0M209.2 404.75H420.0M209.2 409.51H420.0M209.2 414.27H420.0M209.2 419.03H420.0M209.2 423.78H420.0" stroke="#ebebeb" stroke-width="0.5" fill="none"/>
<path d="M219.84 226.3V428.4M234.11 226.3V428.4M248.39 226.3V428.4M262.66 226.3V428.4M276.93 226.3V428.4M291.20 226.3V428.4M305.47 226.3V428.4M319.74 226.3V428.4M334.01 226.3V428.4M348.29 226.3V428.4M362.56 226.3V428.4M376.83 226.3V428.4M391.10 226.3V428.4M405.37 226.3V428.4M419.64 226.3V428.4M209.2 233.50H420.0M209.2 247.77H420.0M209.2 262.04H420.0M209.2 276.31H420.0M209.2 290.58H420.0M209.2 304.86H420.0M209.2 319.13H420.0M209.2 333.40H420.0M209.2 347.67H420.0M209.2 361.94H420.0M209.2 376.21H420.0M209.2 390.48H420.0M209.2 404.75H420.0M209.2 419.03H420.0" stroke="#c9c9c9" stroke-width="0.7" fill="none"/>
<path d="M219.89 226.3V428.4M291.20 226.3V428.4M362.51 226.3V428.4M209.2 262.04H420.0M209.2 332.55H420.0M209.2 403.75H420.0" stroke="#6a6a6a" stroke-width="1.2" fill="none"/>
<polygon points="219.9,225.0 422.0,225.0 422.0,430.0 292.0,430.0 292.0,403.8 219.9,403.8" fill="#d4241a"/>
<rect x="219.9" y="225" width="71.3" height="37.0" fill="#df5e4a"/>
<rect x="291.2" y="225" width="71.3" height="37.0" fill="#e2432e"/>
<rect x="209" y="332.5" width="10.9" height="100" fill="#e2583c"/>
<path d="M210.33 226.3V428.4M215.09 226.3V428.4M219.84 226.3V428.4M224.60 226.3V428.4M229.36 226.3V428.4M234.11 226.3V428.4M238.87 226.3V428.4M243.63 226.3V428.4M248.39 226.3V428.4M253.14 226.3V428.4M257.90 226.3V428.4M262.66 226.3V428.4M267.41 226.3V428.4M272.17 226.3V428.4M276.93 226.3V428.4M281.69 226.3V428.4M286.44 226.3V428.4M291.20 226.3V428.4M295.96 226.3V428.4M300.71 226.3V428.4M305.47 226.3V428.4M310.23 226.3V428.4M314.99 226.3V428.4M319.74 226.3V428.4M324.50 226.3V428.4M329.26 226.3V428.4M334.01 226.3V428.4M338.77 226.3V428.4M343.53 226.3V428.4M348.29 226.3V428.4M353.04 226.3V428.4M357.80 226.3V428.4M362.56 226.3V428.4M367.31 226.3V428.4M372.07 226.3V428.4M376.83 226.3V428.4M381.58 226.3V428.4M386.34 226.3V428.4M391.10 226.3V428.4M395.86 226.3V428.4M400.61 226.3V428.4M405.37 226.3V428.4M410.13 226.3V428.4M414.88 226.3V428.4M419.64 226.3V428.4M209.2 228.74H420.0M209.2 233.50H420.0M209.2 238.26H420.0M209.2 243.01H420.0M209.2 247.77H420.0M209.2 252.53H420.0M209.2 257.28H420.0M209.2 262.04H420.0M209.2 266.80H420.0M209.2 271.56H420.0M209.2 276.31H420.0M209.2 281.07H420.0M209.2 285.83H420.0M209.2 290.58H420.0M209.2 295.34H420.0M209.2 300.10H420.0M209.2 304.86H420.0M209.2 309.61H420.0M209.2 314.37H420.0M209.2 319.13H420.0M209.2 323.88H420.0M209.2 328.64H420.0M209.2 333.40H420.0M209.2 338.16H420.0M209.2 342.91H420.0M209.2 347.67H420.0M209.2 352.43H420.0M209.2 357.18H420.0M209.2 361.94H420.0M209.2 366.70H420.0M209.2 371.46H420.0M209.2 376.21H420.0M209.2 380.97H420.0M209.2 385.73H420.0M209.2 390.48H420.0M209.2 395.24H420.0M209.2 400.00H420.0M209.2 404.75H420.0M209.2 409.51H420.0M209.2 414.27H420.0M209.2 419.03H420.0M209.2 423.78H420.0" stroke="rgba(255,235,230,0.28)" stroke-width="0.5" fill="none"/>
<path d="M219.84 226.3V428.4M234.11 226.3V428.4M248.39 226.3V428.4M262.66 226.3V428.4M276.93 226.3V428.4M291.20 226.3V428.4M305.47 226.3V428.4M319.74 226.3V428.4M334.01 226.3V428.4M348.29 226.3V428.4M362.56 226.3V428.4M376.83 226.3V428.4M391.10 226.3V428.4M405.37 226.3V428.4M419.64 226.3V428.4M209.2 233.50H420.0M209.2 247.77H420.0M209.2 262.04H420.0M209.2 276.31H420.0M209.2 290.58H420.0M209.2 304.86H420.0M209.2 319.13H420.0M209.2 333.40H420.0M209.2 347.67H420.0M209.2 361.94H420.0M209.2 376.21H420.0M209.2 390.48H420.0M209.2 404.75H420.0M209.2 419.03H420.0" stroke="rgba(164,156,156,0.82)" stroke-width="0.7" fill="none"/>
<path d="M219.89 226.3V428.4M291.20 226.3V428.4M362.51 226.3V428.4M209.2 262.04H420.0M209.2 332.55H420.0M209.2 403.75H420.0" stroke="#6a6a6a" stroke-width="1.2" fill="none"/>
</g>
<polygon points="233.1,226.7 237.1,238.9 256.4,232.3 254.3,226.7" fill="none" stroke="#341010" stroke-width="0.58"/>
<polygon points="265.1,226.7 271.4,247.3 298.1,238.9 294.2,226.7" fill="none" stroke="#341010" stroke-width="0.58"/>
<polygon points="221.5,249.9 252.0,239.4 267.6,286.5 237.5,296.7" fill="none" stroke="#341010" stroke-width="0.58"/>
<polygon points="289.7,252.6 312.6,245.4 322.0,271.1 298.3,279.2" fill="none" stroke="#341010" stroke-width="0.58"/>
<polygon points="301.9,287.5 321.3,280.7 331.3,308.8 311.2,315.3" fill="none" stroke="#341010" stroke-width="0.58"/>
<polygon points="234.1,306.7 271.5,293.8 296.9,368.7 260.7,382.3" fill="none" stroke="#341010" stroke-width="0.58"/>
<polygon points="289.7,328.9 326.3,316.7 339.3,356.5 302.6,368.7" fill="none" stroke="#341010" stroke-width="0.58"/>
<polygon points="263.5,259.5 286.1,251.9 307.0,315.3 284.6,322.4" fill="none" stroke="#341010" stroke-width="0.58"/>
<polygon points="374.0,337.8 389.7,332.8 399.9,370.8 384.1,375.1" fill="none" stroke="#341010" stroke-width="0.58"/>
<polygon points="345.3,409.8 366.1,408.3 367.2,428.7 347.0,428.7" fill="none" stroke="#341010" stroke-width="0.58"/>
<polygon points="327.6,248.1 394.7,225.7 424.5,225.7 424.5,313.1 351.1,333.3" fill="none" stroke="#341010" stroke-width="0.58"/>
<polygon points="240.0,249.5 281.4,237.9 287.4,257.6 325.7,247.5 351.0,338.1 368.3,333.8 389.9,411.2 372.6,415.5 357.1,359.8 276.1,381.1" fill="none" stroke="#ffee00" stroke-width="1.1"/>
</g>
<text x="102.2" y="216.4" font-size="17" font-weight="bold" text-anchor="middle" fill="#1a1a1a">(a)</text>
<text x="314.5" y="214.3" font-size="17" font-weight="bold" text-anchor="middle" fill="#1a1a1a">(b)</text>
<text x="103.8" y="447.0" font-size="17" font-weight="bold" text-anchor="middle" fill="#1a1a1a">(c)</text>
<text x="316.1" y="444.7" font-size="17" font-weight="bold" text-anchor="middle" fill="#1a1a1a">(d)</text>
<g fill="#141414" font-size="8.97">
<text x="461.4" y="21.5" font-size="8.6" text-anchor="middle">N</text>
<polygon points="461.4,24.2 455.1,45.4 461.4,37.8" fill="#0c0c18"/>
<polygon points="461.4,24.2 467.8,45.4 461.4,37.8" fill="#fff" stroke="#0c0c18" stroke-width="0.7" stroke-linejoin="miter"/>
<rect x="434.3" y="58.2" width="57.9" height="2.6" fill="#0c0c18"/>
<rect x="449.2" y="58.7" width="13.8" height="1.6" fill="#fff"/>
<text x="434.3" y="56.6" font-size="5.4" text-anchor="middle">0</text>
<text x="449.2" y="56.6" font-size="5.4" text-anchor="middle">5</text>
<text x="463.5" y="56.6" font-size="5.4" text-anchor="middle">10</text>
<text x="492.0" y="56.6" font-size="5.4" text-anchor="middle">20</text>
<text x="493.0" y="60.6" font-size="5.6">m</text>
<text x="433.5" y="78.3" font-size="8.9" font-weight="bold">Legend</text>
<rect x="433.6" y="86.8" width="17.7" height="8.5" fill="#58686c" stroke="#1a1a30" stroke-width="1.15"/>
<text x="455" y="93.5">Commercial Activity</text>
<rect x="433.6" y="100.0" width="17.7" height="8.5" fill="#9ca084" stroke="#1a1a30" stroke-width="1.15"/>
<text x="455" y="106.7">Education &amp; Research</text>
<rect x="433.6" y="113.1" width="17.7" height="8.5" fill="#c8cc38" stroke="#1a1a30" stroke-width="1.15"/>
<text x="455" y="119.8">Governmental Services</text>
<rect x="433.6" y="126.3" width="17.7" height="8.5" fill="#f0e030" stroke="#1a1a30" stroke-width="1.15"/>
<text x="455" y="133.0">Mixed Use</text>
<rect x="433.6" y="139.5" width="17.7" height="8.5" fill="#ff8d0c" stroke="#1a1a30" stroke-width="1.15"/>
<text x="455" y="146.2">Manufacturing &amp; Processing</text>
<rect x="433.6" y="152.6" width="17.7" height="8.5" fill="#ff560c" stroke="#1a1a30" stroke-width="1.15"/>
<text x="455" y="159.3">Residential</text>
<rect x="433.6" y="165.8" width="17.7" height="8.5" fill="#ffffff" stroke="#1a1a30" stroke-width="1.15"/>
<text x="455" y="172.5">Others</text>
<text x="434.5" y="186">Flood Depth (m)</text>
<rect x="434.6" y="192.0" width="17.6" height="8.6" fill="#d6d4f4" stroke="#6c6c78" stroke-width="1.3"/>
<text x="455.6" y="198.9">0.1 - 0.2</text>
<rect x="434.0" y="204.9" width="18.8" height="9.5" fill="#a898e0"/>
<rect x="434.6" y="205.5" width="17.6" height="8.3" fill="url(#dotO)"/>
<text x="455.6" y="212.2">0.21 - 0.5</text>
<rect x="434.0" y="218.2" width="18.8" height="9.5" fill="#8070f8"/>
<text x="455.6" y="225.4">0.51 - 1</text>
<rect x="434.0" y="231.4" width="18.8" height="9.5" fill="#4630c0"/>
<rect x="434.6" y="232.0" width="17.6" height="8.3" fill="url(#dotR)"/>
<text x="455.6" y="238.7">1.01 - 2</text>
<rect x="434.0" y="244.7" width="18.8" height="9.5" fill="#0404dc"/>
<text x="455.6" y="251.9">2.01 +</text>
<text x="431" y="266.0">Damage</text>
<text x="431" y="279.7">(BDT/m2)</text>
<rect x="430.8" y="286.0" width="18.9" height="8.9" fill="#ffffff" stroke="#8e8c98" stroke-width="0.75"/>
<text x="453" y="293.1">0</text>
<rect x="430.8" y="299.4" width="18.9" height="8.9" fill="#f8d8b8" stroke="#8e8c98" stroke-width="0.75"/>
<rect x="431.4" y="299.9" width="17.8" height="7.8" fill="url(#dotW)"/>
<text x="453" y="306.5">1 - 50</text>
<rect x="430.8" y="312.7" width="18.9" height="8.9" fill="#f4c498" stroke="#8e8c98" stroke-width="0.75"/>
<rect x="431.4" y="313.2" width="17.8" height="7.8" fill="url(#dotW)"/>
<text x="453" y="319.8">51 - 100</text>
<rect x="430.8" y="326.1" width="18.9" height="8.9" fill="#f0a468" stroke="#8e8c98" stroke-width="0.75"/>
<rect x="431.4" y="326.6" width="17.8" height="7.8" fill="url(#dotW)"/>
<text x="453" y="333.2">101 - 200</text>
<rect x="430.8" y="339.4" width="18.9" height="8.9" fill="#e88854" stroke="#8e8c98" stroke-width="0.75"/>
<rect x="431.4" y="339.9" width="17.8" height="7.8" fill="url(#dotW)"/>
<text x="453" y="346.5">201 - 500</text>
<rect x="430.8" y="352.8" width="18.9" height="8.9" fill="#e0604a" stroke="#8e8c98" stroke-width="0.75"/>
<text x="453" y="359.9">501 - 1,000</text>
<rect x="430.8" y="366.1" width="18.9" height="8.9" fill="#dc4634" stroke="#8e8c98" stroke-width="0.75"/>
<text x="453" y="373.2">1,001 - 2,000</text>
<rect x="430.8" y="379.5" width="18.9" height="8.9" fill="#d52a20" stroke="#8e8c98" stroke-width="0.75"/>
<text x="453" y="386.6">2,001 - 3,000</text>
<rect x="430.8" y="392.8" width="18.9" height="8.9" fill="#c41010" stroke="#8e8c98" stroke-width="0.75"/>
<text x="453" y="399.9">3,001 +</text>
</g>
</svg></body></html>
